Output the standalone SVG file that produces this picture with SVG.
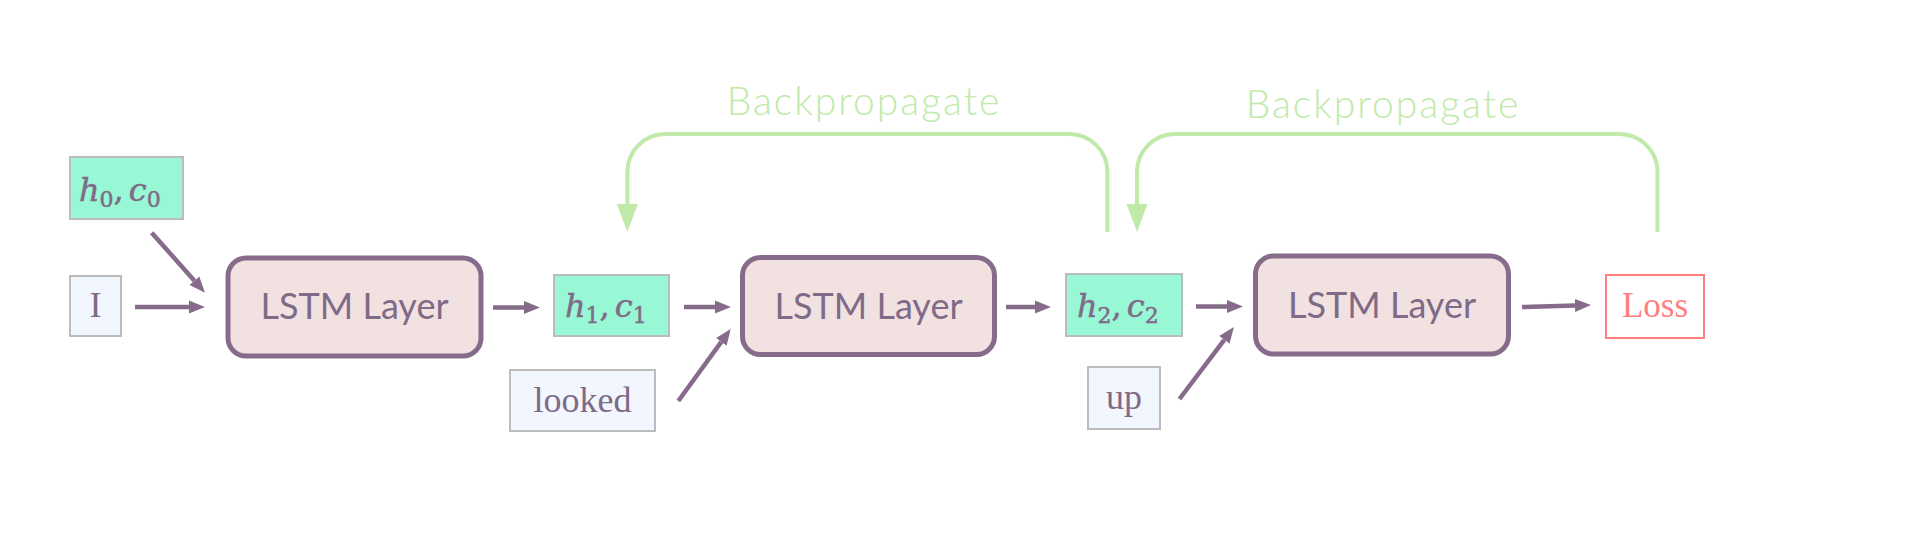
<svg xmlns="http://www.w3.org/2000/svg" width="1920" height="538" viewBox="0 0 1920 538">
<style>
.lstm{fill:#f2e1e1;stroke:#866c8a;stroke-width:5}
.lstmt{font-family:Lato,"Noto Sans",sans-serif;font-size:36px;fill:#7f6a87;text-anchor:middle}
.state{fill:#98f7d5;stroke:#bcbcbc;stroke-width:2}
.word{fill:#f2f6fe;stroke:#bcbcbc;stroke-width:2}
.wordt{font-family:"Liberation Serif",serif;font-size:36px;fill:#7f6a87;text-anchor:middle}
.math{font-family:"DejaVu Serif",serif;font-size:32px;font-style:italic;fill:#7f6a87;stroke:#7f6a87;stroke-width:0.5}
.sub{font-size:22px;font-style:normal}
.loss{fill:#ffffff;stroke:#ff7f7f;stroke-width:2}
.losst{font-family:"Liberation Serif",serif;font-size:35px;fill:#ff7f7f;text-anchor:middle}
.fw{stroke:#866c8a;stroke-width:4.5;fill:none;marker-end:url(#ah)}
.bp{stroke:#bfeaa9;stroke-width:4;fill:none;marker-end:url(#gh)}
.bpt{font-family:Lato,"Noto Sans",sans-serif;font-size:39px;font-weight:300;letter-spacing:2px;fill:#bfeaa9;text-anchor:middle}
</style>
<defs>
<marker id="ah" markerUnits="userSpaceOnUse" markerWidth="16" markerHeight="14" refX="0" refY="7" orient="auto"><path d="M0,0.5 L16,7 L0,13.5 z" fill="#866c8a"/></marker>
<marker id="gh" markerUnits="userSpaceOnUse" markerWidth="28" markerHeight="22" refX="0" refY="11" orient="auto"><path d="M0,0.5 L28,11 L0,21.5 z" fill="#bfeaa9"/></marker>
</defs>
<rect width="1920" height="538" fill="#ffffff"/>
<g id="connectors">
<line class="fw" x1="135" y1="307" x2="189" y2="307"/>
<line class="fw" x1="151.7" y1="232.7" x2="194.4" y2="280.7"/>
<line class="fw" x1="493" y1="307.5" x2="524" y2="307.5"/>
<line class="fw" x1="684" y1="307" x2="715" y2="307"/>
<line class="fw" x1="678.3" y1="401" x2="721.3" y2="341.9"/>
<line class="fw" x1="1006" y1="307" x2="1035" y2="307"/>
<line class="fw" x1="1196" y1="306.5" x2="1227" y2="306.5"/>
<line class="fw" x1="1179.5" y1="399" x2="1224.3" y2="339.8"/>
<line class="fw" x1="1522" y1="307" x2="1575" y2="305.5"/>
<path class="bp" d="M1107.4,232 V172 A38,38 0 0 0 1069.4,134 H665.4 A38,38 0 0 0 627.4,172 V204"/>
<path class="bp" d="M1657.5,232 V172 A38,38 0 0 0 1619.5,134 H1175 A38,38 0 0 0 1137,172 V204"/>
<text class="bpt" x="864" y="115">Backpropagate</text>
<text class="bpt" x="1383" y="118">Backpropagate</text>
</g>
<g id="h0c0"><rect class="state" x="70" y="157" width="113" height="62"/>
<text class="math" x="79" y="201">h<tspan class="sub" dy="6">0</tspan><tspan dy="-6" style="font-style:normal">,</tspan><tspan dx="5">c</tspan><tspan class="sub" dy="6">0</tspan></text></g>
<g id="inI"><rect class="word" x="70" y="276" width="51" height="60"/><text class="wordt" x="95.5" y="317">I</text></g>
<g id="lstm1"><rect class="lstm" x="228" y="258" width="253" height="98" rx="18"/><text class="lstmt" x="354.5" y="319">LSTM Layer</text></g>
<g id="h1c1"><rect class="state" x="554" y="275" width="115" height="61"/>
<text class="math" x="565" y="317">h<tspan class="sub" dy="6">1</tspan><tspan dy="-6" style="font-style:normal">,</tspan><tspan dx="5">c</tspan><tspan class="sub" dy="6">1</tspan></text></g>
<g id="looked"><rect class="word" x="510" y="370" width="145" height="61"/><text class="wordt" x="582.5" y="412">looked</text></g>
<g id="lstm2"><rect class="lstm" x="742.5" y="257.5" width="252" height="97" rx="18"/><text class="lstmt" x="868.5" y="318.5">LSTM Layer</text></g>
<g id="h2c2"><rect class="state" x="1066" y="274" width="116" height="62"/>
<text class="math" x="1077" y="317">h<tspan class="sub" dy="6">2</tspan><tspan dy="-6" style="font-style:normal">,</tspan><tspan dx="5">c</tspan><tspan class="sub" dy="6">2</tspan></text></g>
<g id="up"><rect class="word" x="1088" y="367" width="72" height="62"/><text class="wordt" x="1124" y="409">up</text></g>
<g id="lstm3"><rect class="lstm" x="1255.5" y="256" width="253" height="98" rx="18"/><text class="lstmt" x="1382" y="317.5">LSTM Layer</text></g>
<g id="loss"><rect class="loss" x="1606" y="275" width="98" height="63"/><text class="losst" x="1655" y="317">Loss</text></g>
</svg>
